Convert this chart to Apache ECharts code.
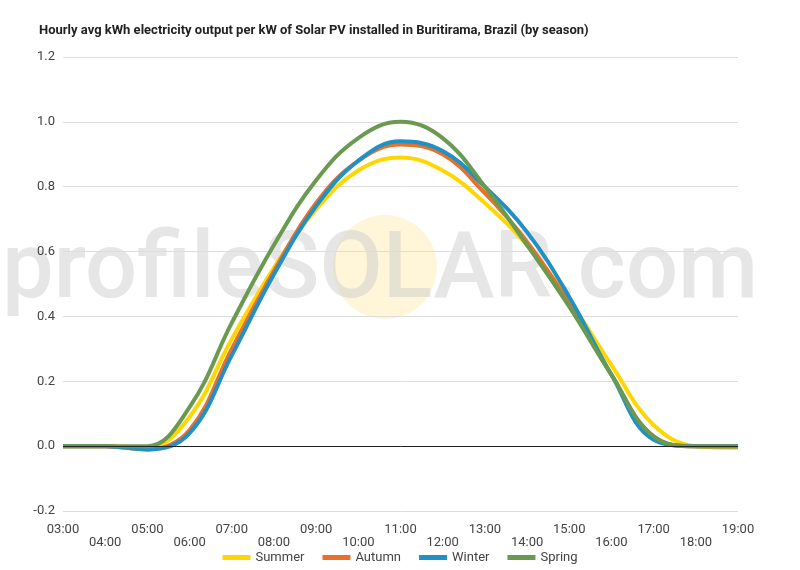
<!DOCTYPE html>
<html><head><meta charset="utf-8">
<script src="https://cdn.jsdelivr.net/npm/echarts@6/dist/echarts.min.js"></script>
<style>html,body{margin:0;padding:0;background:#fff}#c{width:800px;height:570px}</style>
</head><body><div id="c"></div>
<script>
var hours=['03:00','04:00','05:00','06:00','07:00','08:00','09:00','10:00','11:00','12:00','13:00','14:00','15:00','16:00','17:00','18:00','19:00'];
var summer=[0,0,-0.005,0.09,0.33,0.55,0.73,0.85,0.89,0.85,0.75,0.62,0.45,0.25,0.065,0.0,-0.005];
var autumn=[0,0,-0.01,0.05,0.30,0.54,0.75,0.88,0.93,0.90,0.78,0.63,0.44,0.22,0.03,0,0];
var winter=[0,0,-0.01,0.04,0.28,0.53,0.74,0.88,0.94,0.91,0.80,0.66,0.46,0.22,0.02,0,0];
var spring=[0,0,0,0.12,0.38,0.62,0.82,0.95,1.0,0.95,0.80,0.62,0.43,0.22,0.03,0,0];
var names=['Summer','Autumn','Winter','Spring'];
var colors=['#ffd700','#e8702a','#1f91c4','#6a9a50'];
var data=[summer,autumn,winter,spring];
var ch=echarts.init(document.getElementById('c'));
ch.setOption({
  animation:false,
  title:{text:'Hourly avg kWh electricity output per kW of Solar PV installed in Buritirama, Brazil (by season)',left:34,top:19,textStyle:{fontFamily:'Roboto',fontSize:13,fontWeight:'bold',color:'#222'}},
  graphic:[
    {type:'circle',shape:{cx:385,cy:267,r:52},style:{fill:'rgba(255,235,170,0.45)'},z:0},
    {type:'text',left:2,top:228,style:{text:'profileSOLAR.com',font:'500 92px Roboto',fill:'rgba(205,205,205,0.5)'},z:0}
  ],
  grid:{left:63,right:62,top:57,bottom:59},
  legend:{bottom:1,left:'center',itemWidth:28,itemHeight:5,itemGap:18,icon:'rect',textStyle:{fontFamily:'Roboto',fontSize:13,color:'#444'},data:names},
  xAxis:{type:'category',data:hours,boundaryGap:false,
    axisLine:{show:false},axisTick:{show:false},
    axisLabel:{interval:0,margin:12,fontFamily:'Roboto',fontSize:13,color:'#444',formatter:function(v,i){return i%2?'\n'+v:v;}}},
  yAxis:{type:'value',min:-0.2,max:1.2,interval:0.2,
    axisLabel:{fontFamily:'Roboto',fontSize:13,color:'#444',formatter:function(v){return v.toFixed(1);}},
    splitLine:{lineStyle:{color:'#ddd'}},axisLine:{show:false},axisTick:{show:false}},
  series:data.map(function(d,i){return {name:names[i],type:'line',data:d,smooth:0.4,showSymbol:false,color:colors[i],lineStyle:{width:4,color:colors[i]},z:3,
    markLine:i==0?{silent:true,symbol:'none',label:{show:false},lineStyle:{color:'#222',width:1,type:'solid'},data:[{yAxis:0}]}:undefined};})
});
</script></body></html>
